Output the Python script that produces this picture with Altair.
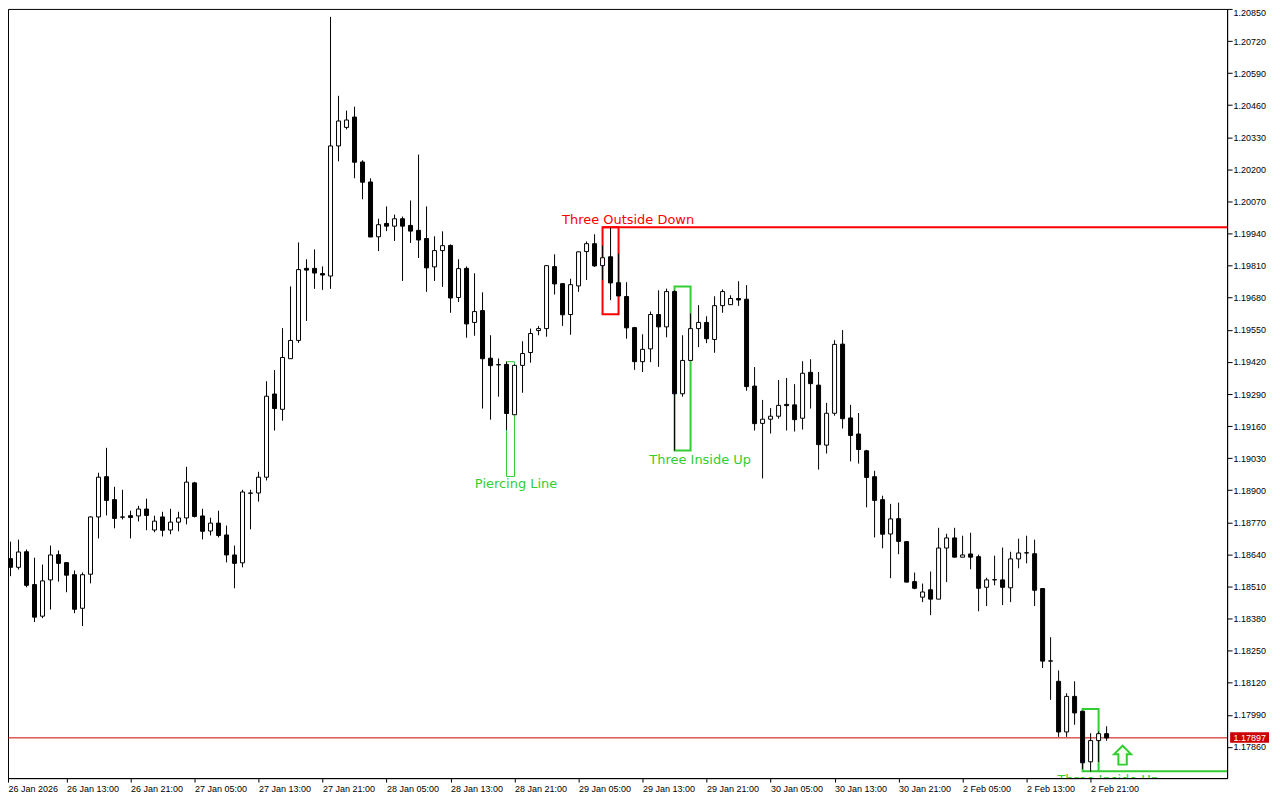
import json
import altair as alt
import pandas as pd

opens = [1.18676,1.18623,1.18588,1.18651,1.18518,1.18390,1.18537,1.18639,1.18607,1.18558,
1.18422,1.18560,1.18792,1.18955,1.18862,1.18791,1.18797,1.18796,1.18824,1.18739,
1.18792,1.18739,1.18771,1.18788,1.18930,1.18796,1.18735,1.18767,1.18719,1.18638,
1.18606,1.18888,1.18889,1.18953,1.19290,1.19228,1.19433,1.19507,1.19799,1.19799,
1.19778,1.19768,1.20295,1.20370,1.20412,1.20230,1.20149,1.19927,1.19981,1.19970,
1.20000,1.19973,1.19953,1.19920,1.19805,1.19871,1.19892,1.19681,1.19799,1.19580,
1.19628,1.19435,1.19409,1.19410,1.19206,1.19406,1.19458,1.19547,1.19555,1.19806,
1.19737,1.19612,1.19728,1.19867,1.19899,1.19810,1.19846,1.19741,1.19685,1.19559,
1.19421,1.19473,1.19612,1.19562,1.19705,1.19291,1.19426,1.19555,1.19580,1.19511,
1.19648,1.19652,1.19677,1.19674,1.19322,1.19171,1.19188,1.19200,1.19248,1.19246,
1.19192,1.19378,1.19326,1.19083,1.19212,1.19492,1.19193,1.19128,1.19060,1.18955,
1.18862,1.18723,1.18785,1.18692,1.18530,1.18467,1.18497,1.18459,1.18666,1.18707,
1.18629,1.18642,1.18631,1.18507,1.18537,1.18537,1.18505,1.18622,1.18646,1.18643,
1.18502,1.18208,1.18126,1.17921,1.18065,1.18005,1.17800,1.17886,1.17914]
closes = [1.18619,1.18588,1.18650,1.18515,1.18386,1.18533,1.18638,1.18604,1.18556,1.18418,
1.18558,1.18792,1.18953,1.18859,1.18786,1.18792,1.18790,1.18824,1.18798,1.18775,
1.18738,1.18771,1.18788,1.18933,1.18794,1.18734,1.18767,1.18717,1.18638,1.18604,
1.18893,1.18889,1.18953,1.19281,1.19231,1.19438,1.19507,1.19794,1.19792,1.19780,
1.19772,1.20295,1.20396,1.20400,1.20229,1.20148,1.19926,1.19976,1.19970,1.20000,
1.19970,1.19950,1.19914,1.19801,1.19871,1.19891,1.19679,1.19798,1.19574,1.19624,
1.19433,1.19405,1.19408,1.19211,1.19406,1.19454,1.19535,1.19555,1.19810,1.19736,
1.19611,1.19733,1.19866,1.19899,1.19809,1.19842,1.19740,1.19687,1.19558,1.19421,
1.19471,1.19612,1.19562,1.19705,1.19291,1.19426,1.19555,1.19580,1.19514,1.19648,
1.19705,1.19677,1.19671,1.19320,1.19170,1.19188,1.19200,1.19244,1.19243,1.19186,
1.19374,1.19332,1.19085,1.19212,1.19491,1.19190,1.19122,1.19065,1.18952,1.18859,
1.18722,1.18784,1.18693,1.18528,1.18503,1.18488,1.18459,1.18666,1.18707,1.18629,
1.18638,1.18629,1.18503,1.18537,1.18538,1.18507,1.18622,1.18646,1.18647,1.18495,
1.18208,1.18209,1.17921,1.18065,1.17998,1.17796,1.17886,1.17914,1.17897]
highs = [1.18690,1.18692,1.18700,1.18660,1.18627,1.18599,1.18676,1.18656,1.18607,1.18575,
1.18567,1.18794,1.18971,1.19072,1.18914,1.18902,1.18817,1.18837,1.18866,1.18797,
1.18813,1.18825,1.18813,1.18995,1.18934,1.18825,1.18789,1.18817,1.18757,1.18676,
1.18902,1.18902,1.18975,1.19342,1.19387,1.19557,1.19726,1.19904,1.19836,1.19876,
1.19807,1.20818,1.20498,1.20438,1.20454,1.20237,1.20164,1.20000,1.20050,1.20017,
1.20009,1.20074,1.20260,1.20050,1.19929,1.19949,1.19896,1.19836,1.19807,1.19779,
1.19702,1.19528,1.19434,1.19421,1.19410,1.19504,1.19555,1.19565,1.19810,1.19856,
1.19739,1.19757,1.19867,1.19908,1.19937,1.19892,1.19964,1.19859,1.19743,1.19562,
1.19532,1.19624,1.19710,1.19717,1.19710,1.19528,1.19616,1.19650,1.19605,1.19686,
1.19714,1.19690,1.19747,1.19731,1.19399,1.19266,1.19233,1.19347,1.19355,1.19330,
1.19423,1.19431,1.19379,1.19254,1.19508,1.19549,1.19246,1.19213,1.19064,1.18979,
1.18878,1.18845,1.18850,1.18692,1.18567,1.18522,1.18571,1.18748,1.18724,1.18748,
1.18716,1.18728,1.18639,1.18546,1.18635,1.18668,1.18651,1.18704,1.18716,1.18700,
1.18502,1.18305,1.18170,1.18078,1.18126,1.18005,1.17916,1.17923,1.17944]
lows = [1.18600,1.18552,1.18579,1.18507,1.18366,1.18382,1.18417,1.18530,1.18487,1.18402,
1.18350,1.18523,1.18705,1.18798,1.18746,1.18782,1.18705,1.18774,1.18738,1.18730,
1.18713,1.18722,1.18734,1.18762,1.18790,1.18701,1.18717,1.18709,1.18608,1.18503,
1.18588,1.18742,1.18854,1.18940,1.19142,1.19182,1.19433,1.19497,1.19586,1.19716,
1.19712,1.19716,1.20233,1.20362,1.20164,1.20079,1.19926,1.19869,1.19950,1.19910,
1.19748,1.19902,1.19841,1.19704,1.19748,1.19724,1.19619,1.19663,1.19518,1.19526,
1.19231,1.19186,1.19279,1.19144,1.19206,1.19295,1.19417,1.19528,1.19522,1.19693,
1.19566,1.19530,1.19704,1.19752,1.19805,1.19751,1.19670,1.19687,1.19514,1.19388,
1.19379,1.19419,1.19400,1.19520,1.19061,1.19279,1.19425,1.19480,1.19496,1.19457,
1.19619,1.19651,1.19647,1.19303,1.19142,1.18948,1.19130,1.19190,1.19142,1.19138,
1.19146,1.19231,1.18984,1.19049,1.19202,1.19150,1.19017,1.19008,1.18831,1.18709,
1.18665,1.18544,1.18641,1.18528,1.18499,1.18447,1.18394,1.18459,1.18528,1.18629,
1.18629,1.18580,1.18410,1.18431,1.18515,1.18435,1.18447,1.18584,1.18604,1.18431,
1.18180,1.18051,1.17901,1.17901,1.17950,1.17770,1.17760,1.17799,1.17885]

y_ticks = [1.20850,1.20720,1.20590,1.20460,1.20330,1.20200,1.20070,1.19940,1.19810,1.19680,
1.19550,1.19420,1.19290,1.19160,1.19030,1.18900,1.18770,1.18640,1.18510,1.18380,
1.18250,1.18120,1.17990,1.17860]
x_tick_index = [0.6875] + [8 * k for k in range(1, 18)]
x_tick_labels = ["26 Jan 2026","26 Jan 13:00","26 Jan 21:00","27 Jan 05:00","27 Jan 13:00","27 Jan 21:00",
"28 Jan 05:00","28 Jan 13:00","28 Jan 21:00","29 Jan 05:00","29 Jan 13:00","29 Jan 21:00",
"30 Jan 05:00","30 Jan 13:00","30 Jan 21:00","2 Feb 05:00","2 Feb 13:00","2 Feb 21:00"]

box_left = [75, 84, 63, 135]
box_right = [77, 86, 64, 137]
box_top = [1.19966, 1.19726, 1.19421, 1.18014]
box_bottom = [1.19613, 1.19061, 1.18956, 1.17762]
box_color = ["#FF0000", "#32CD32", "#32CD32", "#32CD32"]
box_width = [2, 2, 1, 2]

ext_start = [75, 137]
ext_price = [1.19966, 1.17762]
ext_color = ["#FF0000", "#32CD32"]

note_text = ["Three Outside Down", "Three Inside Up", "Piercing Line", "Three Inside Up"]
note_x = [78.19, 87.2, 64.19, 138.2]
note_y = [1.19993, 1.19023, 1.18924, 1.17726]
note_color = ["#FF0000", "#32CD32", "#32CD32", "#32CD32"]

last_price = 1.17897
X_MIN, X_MAX = 0.6875, 153.0625
Y_MIN, Y_MAX = 1.17734, 1.20850
ARROW = "M0,-0.95L0.85,-0.1L0.42,-0.1L0.42,0.95L-0.42,0.95L-0.42,-0.1L-0.85,-0.1Z"

candles = pd.DataFrame({"i": range(len(opens)), "o": opens, "c": closes, "h": highs, "l": lows})
candles["dir"] = ["up" if c >= o else "down" for o, c in zip(opens, closes)]
boxes = pd.DataFrame({"a": box_left, "b": box_right, "t": box_top, "u": box_bottom, "col": box_color, "w": box_width})
exts = pd.DataFrame({"a": ext_start, "b": [X_MAX] * 2, "p": ext_price, "col": ext_color})
notes = pd.DataFrame({"x": note_x, "y": note_y, "t": note_text, "col": note_color})

xs = alt.Scale(domain=[X_MIN, X_MAX], nice=False, zero=False, padding=0)
ys = alt.Scale(domain=[Y_MIN, Y_MAX], nice=False, zero=False, padding=0)

x_axis = alt.Axis(values=x_tick_index, labelExpr=json.dumps(x_tick_labels) + "[round(datum.value/8)]",
                  labelAlign="left", labelBaseline="top", tickSize=4, tickColor="black", domainColor="black",
                  labelColor="black", labelFont="Liberation Sans", labelFontSize=9, labelPadding=2,
                  labelOverlap=False, labelBound=False, labelFlush=False, grid=False, title=None)
y_axis = alt.Axis(values=y_ticks, format=".5f", orient="right", tickSize=5, tickColor="black", domainColor="black",
                  labelColor="black", labelFont="Liberation Sans", labelFontSize=9, labelPadding=1,
                  labelOverlap=False, labelBound=False, labelFlush=True, grid=False, title=None)

def X(f): return alt.X(f, scale=xs, axis=x_axis, title=None)
def Y(f): return alt.Y(f, scale=ys, axis=y_axis, title=None)

box_layer = alt.Chart(boxes).mark_rect(fillOpacity=0, clip=True).encode(
    x=X("a:Q"), x2="b:Q", y=Y("t:Q"), y2="u:Q",
    stroke=alt.Color("col:N", scale=None), strokeWidth=alt.StrokeWidth("w:Q", scale=None))
ext_layer = alt.Chart(exts).mark_rule(strokeWidth=2, clip=True).encode(
    x=X("a:Q"), x2="b:Q", y=Y("p:Q"), color=alt.Color("col:N", scale=None))
price_line = alt.Chart(pd.DataFrame({"a": [X_MIN], "b": [X_MAX], "p": [last_price]})).mark_rule(
    color="#D00000", strokeWidth=1).encode(x=X("a:Q"), x2="b:Q", y=Y("p:Q"))
wicks = alt.Chart(candles).mark_rule(color="black", strokeWidth=1, clip=True).encode(
    x=X("i:Q"), y=Y("h:Q"), y2="l:Q")
bodies = alt.Chart(candles).mark_bar(size=4, stroke="black", strokeWidth=1, clip=True, orient="vertical").encode(
    x=X("i:Q"), y=Y("o:Q"), y2="c:Q",
    fill=alt.Fill("dir:N", scale=alt.Scale(domain=["up", "down"], range=["white", "black"]), legend=None))
text_layer = alt.Chart(notes).mark_text(font="DejaVu Sans", fontSize=13, clip=True).encode(
    x=X("x:Q"), y=Y("y:Q"), text="t:N", color=alt.Color("col:N", scale=None))
arrow = alt.Chart(pd.DataFrame({"x": [140], "y": [1.17827]})).mark_point(
    shape=ARROW, size=400, filled=True, fill="#F4FFF0", stroke="#32CD32", strokeWidth=2, opacity=1).encode(
    x=X("x:Q"), y=Y("y:Q"))
tag_box = alt.Chart(pd.DataFrame({"a": [153.44], "b": [158.3], "t": [1.17920], "u": [1.17877]})).mark_rect(
    color="#CC0000").encode(x=X("a:Q"), x2="b:Q", y=Y("t:Q"), y2="u:Q")
tag_text = alt.Chart(pd.DataFrame({"x": [155.9], "y": [last_price], "t": ["1.17897"]})).mark_text(
    color="white", font="Liberation Sans", fontSize=9).encode(x=X("x:Q"), y=Y("y:Q"), text="t:N")

chart = alt.layer(box_layer, ext_layer, price_line, wicks, bodies, text_layer, arrow, tag_box, tag_text).properties(
    width=1222, height=771, background="white",
    padding={"left": 0, "top": 0, "right": 45, "bottom": 16},
    autosize=alt.AutoSizeParams(type="none"),
).configure_view(stroke="black", strokeWidth=1)

chart.save("out.html", embed_options={"renderer": "svg", "actions": False})
